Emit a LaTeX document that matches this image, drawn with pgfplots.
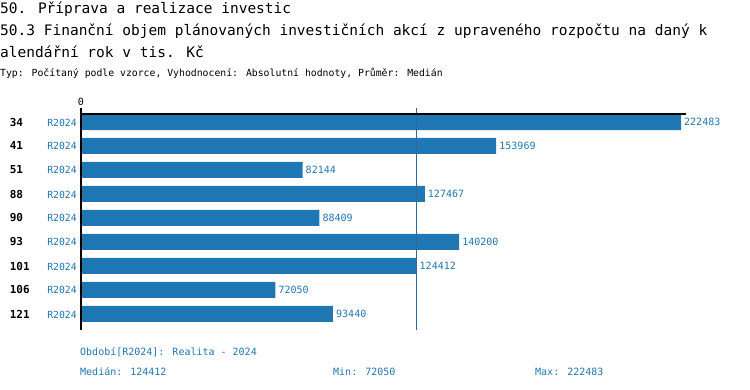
\documentclass[border=0pt]{standalone}
\usepackage{pgfplots}
\pgfplotsset{compat=1.18}
\usepackage{fontspec}
\setmainfont{DejaVu Sans Mono}
\setmonofont{DejaVu Sans Mono}
\definecolor{barblue}{RGB}{31,119,180}
\definecolor{medline}{RGB}{45,105,160}
\pgfplotstableread{
y val
0 222483
1 153969
2 82144
3 127467
4 88409
5 140200
6 124412
7 72050
8 93440
}\datatab
\newcommand{\lab}[1]{\makebox[67pt]{\textcolor{black}{\fontsize{11}{12}\selectfont\bfseries #1}\hfill R2024}}
\begin{document}
\begin{tikzpicture}
\path[use as bounding box] (0,0) rectangle (750pt,-390pt);
\node[anchor=west,inner sep=0pt,font=\fontsize{14.5}{16}\selectfont] at (0pt,-9pt) {50. Příprava a realizace investic};
\node[anchor=west,inner sep=0pt,font=\fontsize{14.5}{16}\selectfont] at (0pt,-31pt) {50.3 Finanční objem plánovaných investičních akcí z upraveného rozpočtu na daný k};
\node[anchor=west,inner sep=0pt,font=\fontsize{14.5}{16}\selectfont] at (0pt,-52pt) {alendářní rok v tis. Kč};
\node[anchor=west,inner sep=0pt,font=\fontsize{9.8}{12}\selectfont] at (0pt,-73pt) {Typ: Počítaný podle vzorce, Vyhodnocení: Absolutní hodnoty, Průměr: Medián};
\begin{axis}[
  at={(81pt,-110pt)}, anchor=north west,
  scale only axis, width=605pt, height=216pt,
  xmin=0, xmax=224337, ymin=-0.5, ymax=8.5,
  y dir=reverse,
  axis line style={draw=none},
  xtick=\empty,
  ytick={0,...,8},
  yticklabels={\lab{34},\lab{41},\lab{51},\lab{88},\lab{90},\lab{93},\lab{101},\lab{106},\lab{121}},
  yticklabel style={inner sep=0pt, xshift=-4pt, text=barblue, font=\fontsize{9.8}{12}\selectfont},
  major tick length=0pt,
  xbar, bar width=16pt,
  clip=false,
  nodes near coords={\pgfmathprintnumber[fixed,precision=0,1000 sep={}]{\pgfplotspointmeta}},
  point meta=x,
  nodes near coords style={anchor=west, inner sep=0pt, xshift=3pt, text=barblue, font=\fontsize{10}{12}\selectfont, /pgf/number format/assume math mode=true},
]
\addplot[fill=barblue, draw=none] table[x=val, y=y] {\datatab};
\draw[medline, line width=1pt] (axis cs:124412,-0.583) -- (axis cs:124412,8.667);
\draw[black, line width=1.5pt] (axis cs:0,-0.333) -- (axis cs:224337,-0.333);
\draw[black, line width=1.6pt] (axis cs:0,-0.583) -- (axis cs:0,8.667);
\node[font=\fontsize{10}{12}\selectfont, inner sep=0pt] at (axis cs:0,-0.83) {0};
\end{axis}
\node[anchor=west,inner sep=0pt,text=barblue,font=\fontsize{10}{12}\selectfont] at (80pt,-352pt) {Období[R2024]: Realita - 2024};
\node[anchor=west,inner sep=0pt,text=barblue,font=\fontsize{10}{12}\selectfont] at (80pt,-372pt) {Medián: 124412};
\node[anchor=west,inner sep=0pt,text=barblue,font=\fontsize{10}{12}\selectfont] at (333pt,-372pt) {Min: 72050};
\node[anchor=west,inner sep=0pt,text=barblue,font=\fontsize{10}{12}\selectfont] at (535pt,-372pt) {Max: 222483};
\end{tikzpicture}
\end{document}
